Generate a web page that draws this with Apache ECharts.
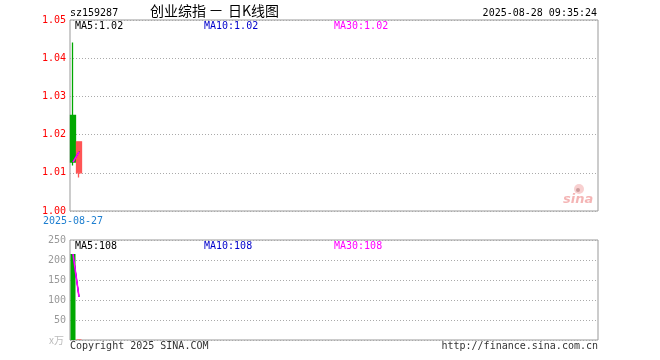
<!DOCTYPE html>
<html><head><meta charset="utf-8">
<script src="https://cdn.jsdelivr.net/npm/echarts@6/dist/echarts.min.js"></script>
<style>html,body{margin:0;padding:0;background:#fff}#c{width:660px;height:360px}</style>
</head><body><div id="c"></div>
<script>
// ---- data ----
const dates = ['2025-08-27', '2025-08-28'];
const slotCount = 88;
const opens  = [1.0250, 1.0100];
const closes = [1.0128, 1.0181];
const lows   = [1.0119, 1.0088];
const highs  = [1.0441, 1.0181];
const ma5  = [1.0128, 1.0155];
const ma10 = [1.0128, 1.0155];
const ma30 = [1.0128, 1.0155];
const volumes = [215, 1.5];
const volMa5  = [215, 108];
const volMa10 = [215, 108];
const volMa30 = [215, 108];
const priceTicks = [1.00, 1.01, 1.02, 1.03, 1.04, 1.05];
const volTicks = [0, 50, 100, 150, 200, 250];
const titleCode = 'sz159287';
const titleParts = ['创业综指', '一', '日K线图'];
const timeStamp = '2025-08-28 09:35:24';

const mono = '"DejaVu Sans Mono", "Liberation Mono", monospace';
const cjk = '"Noto Sans CJK SC", sans-serif';
const RED = '#FF5555', GREEN = '#00A800';
const cats = dates.concat(new Array(slotCount - dates.length).fill(''));
const kData = dates.map((d, i) => [opens[i], closes[i], lows[i], highs[i]]);
const vData = volumes.map((v, i) => ({value: v, itemStyle: {color: closes[i] >= opens[i] ? RED : GREEN}}));

const chart = echarts.init(document.getElementById('c'), null, {renderer: 'canvas'});
const splitDotted = {show: true, lineStyle: {color: '#AAAAAA', type: [1, 2], width: 1}};
chart.setOption({
  animation: false,
  grid: [
    {left: 70, right: 62, top: 20, height: 191, show: true, borderColor: '#999', borderWidth: 1, backgroundColor: 'transparent'},
    {left: 70, right: 62, top: 240, height: 100, show: true, borderColor: '#999', borderWidth: 1, backgroundColor: 'transparent'}
  ],
  xAxis: [
    {type: 'category', gridIndex: 0, data: cats, boundaryGap: true,
     axisLine: {show: false}, axisTick: {show: false}, splitLine: {show: false},
     axisLabel: {show: true, interval: 0, margin: 5, color: '#1E7FD0', fontFamily: mono, fontSize: 10,
       formatter: (v, i) => i === 0 ? v : ''}},
    {type: 'category', gridIndex: 1, data: cats, boundaryGap: true,
     axisLine: {show: false}, axisTick: {show: false}, splitLine: {show: false}, axisLabel: {show: false}}
  ],
  yAxis: [
    {type: 'value', gridIndex: 0, min: priceTicks[0], max: priceTicks[priceTicks.length - 1], interval: 0.01,
     axisLine: {show: false}, axisTick: {show: false}, splitLine: splitDotted,
     axisLabel: {color: '#FF0000', fontFamily: mono, fontSize: 10, margin: 4, formatter: v => v.toFixed(2)}},
    {type: 'value', gridIndex: 1, min: volTicks[0], max: volTicks[volTicks.length - 1], interval: 50,
     axisLine: {show: false}, axisTick: {show: false}, splitLine: splitDotted,
     axisLabel: {color: '#999999', fontFamily: mono, fontSize: 10, margin: 4, formatter: v => v === 0 ? '' : String(v)}}
  ],
  series: [
    {type: 'candlestick', xAxisIndex: 0, yAxisIndex: 0, data: kData, barWidth: 5,
     itemStyle: {color: RED, color0: GREEN, borderColor: RED, borderColor0: GREEN, borderWidth: 1.3}},
    {type: 'line', xAxisIndex: 0, yAxisIndex: 0, data: ma5, symbol: 'none', lineStyle: {color: '#000000', width: 1}},
    {type: 'line', xAxisIndex: 0, yAxisIndex: 0, data: ma10, symbol: 'none', lineStyle: {color: '#0000FF', width: 1}},
    {type: 'line', xAxisIndex: 0, yAxisIndex: 0, data: ma30, symbol: 'none', lineStyle: {color: '#FF00FF', width: 1.6}},
    {type: 'bar', xAxisIndex: 1, yAxisIndex: 1, data: vData, barWidth: 5},
    {type: 'line', xAxisIndex: 1, yAxisIndex: 1, data: volMa5, symbol: 'none', lineStyle: {color: '#000000', width: 1}},
    {type: 'line', xAxisIndex: 1, yAxisIndex: 1, data: volMa10, symbol: 'none', lineStyle: {color: '#0000FF', width: 1}},
    {type: 'line', xAxisIndex: 1, yAxisIndex: 1, data: volMa30, symbol: 'none', lineStyle: {color: '#FF00FF', width: 1.6}}
  ],
  graphic: [
    {type: 'text', left: 70, top: 8, style: {text: titleCode, fill: '#000', font: '10px ' + mono}},
    {type: 'text', left: 150, top: 4, style: {text: titleParts[0], fill: '#000', font: '14px ' + cjk}},
    {type: 'text', left: 210, top: 5, style: {text: titleParts[1], fill: '#000', font: '12px ' + cjk}},
    {type: 'text', left: 228, top: 4, style: {text: titleParts[2], fill: '#000', font: '14px ' + cjk}},
    {type: 'text', right: 63, top: 8, style: {text: timeStamp, fill: '#000', font: '10px ' + mono}},
    {type: 'text', left: 75, top: 21, style: {text: 'MA5:' + ma5[ma5.length - 1].toFixed(2), fill: '#000', font: '10px ' + mono}},
    {type: 'text', left: 204, top: 21, style: {text: 'MA10:' + ma10[ma10.length - 1].toFixed(2), fill: '#0000CC', font: '10px ' + mono}},
    {type: 'text', left: 334, top: 21, style: {text: 'MA30:' + ma30[ma30.length - 1].toFixed(2), fill: '#FF00FF', font: '10px ' + mono}},
    {type: 'text', left: 75, top: 241, style: {text: 'MA5:' + Math.round(volMa5[volMa5.length - 1]), fill: '#000', font: '10px ' + mono}},
    {type: 'text', left: 204, top: 241, style: {text: 'MA10:' + Math.round(volMa10[volMa10.length - 1]), fill: '#0000CC', font: '10px ' + mono}},
    {type: 'text', left: 334, top: 241, style: {text: 'MA30:' + Math.round(volMa30[volMa30.length - 1]), fill: '#FF00FF', font: '10px ' + mono}},
    {type: 'text', left: 49, top: 335, style: {text: 'x万', fill: '#BBBBBB', font: '10px ' + cjk}},
    {type: 'text', left: 70, top: 341, style: {text: 'Copyright 2025 SINA.COM', fill: '#333', font: '10px ' + mono}},
    {type: 'text', right: 62, top: 341, style: {text: 'http://finance.sina.com.cn', fill: '#333', font: '10px ' + mono}},
    {type: 'circle', shape: {cx: 579, cy: 189, r: 5}, style: {fill: 'rgba(235,120,120,0.35)'}},
    {type: 'circle', shape: {cx: 578, cy: 190, r: 2}, style: {fill: 'rgba(120,60,60,0.35)'}},
    {type: 'text', left: 563, top: 193, style: {text: 'sina', fill: 'rgba(230,90,90,0.45)', font: 'italic bold 13px "DejaVu Sans", sans-serif'}}
  ]
});
</script></body></html>
